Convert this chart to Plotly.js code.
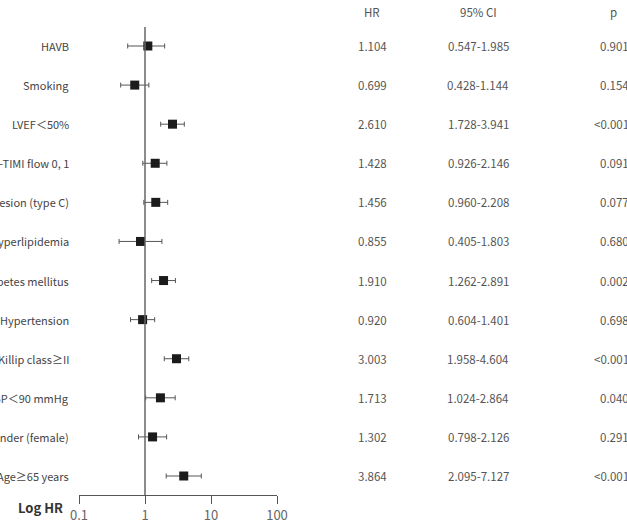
<!DOCTYPE html>
<html>
<head>
<meta charset="utf-8">
<script src="https://cdn.plot.ly/plotly-3.0.1.min.js"></script>
<style>
  html, body { margin: 0; padding: 0; background: #fff; }
  #chart { width: 627px; height: 523px; }
</style>
</head>
<body>
<div id="chart"></div>
<script>
// Multivariable Cox regression: hazard ratios with 95% confidence intervals
const variables = [
  "HAVB", "Smoking", "LVEF\uFF1C50%", "Pre-TIMI flow 0, 1", "B2/C lesion (type C)",
  "Hyperlipidemia", "Diabetes mellitus", "Hypertension", "Killip class\u2265II",
  "SBP\uFF1C90 mmHg", "Gender (female)", "Age\u226565 years"
];
const hr    = [1.104, 0.699, 2.610, 1.428, 1.456, 0.855, 1.910, 0.920, 3.003, 1.713, 1.302, 3.864];
const ciLow = [0.547, 0.428, 1.728, 0.926, 0.960, 0.405, 1.262, 0.604, 1.958, 1.024, 0.798, 2.095];
const ciHigh= [1.985, 1.144, 3.941, 2.146, 2.208, 1.803, 2.891, 1.401, 4.604, 2.864, 2.126, 7.127];
const hrText = ["1.104", "0.699", "2.610", "1.428", "1.456", "0.855", "1.910", "0.920", "3.003", "1.713", "1.302", "3.864"];
const ciText = ["0.547-1.985", "0.428-1.144", "1.728-3.941", "0.926-2.146", "0.960-2.208", "0.405-1.803",
                "1.262-2.891", "0.604-1.401", "1.958-4.604", "1.024-2.864", "0.798-2.126", "2.095-7.127"];
const pText = ["0.901", "0.154", "<0.001", "0.091", "0.077", "0.680", "0.002", "0.698", "<0.001", "0.040", "0.291", "<0.001"];
const tickVals = [0.1, 1, 10, 100];
const tickText = ["0.1", "1", "10", "100"];

// Plot box in pixels
const W = 627, H = 523;
const plotL = 79, plotR = 277, plotT = 27, plotB = 495;
const px = p => (p - plotL) / (plotR - plotL);          // pixel x -> paper x
const py = p => (plotB - p) / (plotB - plotT);          // pixel y -> paper y

const rows = variables.map((_, i) => i);
const FONT = "Noto Sans CJK KR, Noto Sans, sans-serif";

const trace = {
  type: "scatter",
  mode: "markers",
  x: hr,
  y: rows,
  marker: { symbol: "square", size: 9, color: "#1b1b1b" },
  error_x: {
    type: "data",
    symmetric: false,
    array: hr.map((v, i) => ciHigh[i] - v),
    arrayminus: hr.map((v, i) => v - ciLow[i]),
    color: "#555",
    thickness: 1,
    width: 2.5
  },
  hoverinfo: "skip",
  showlegend: false
};

const annotations = [];
const colHR = px(372), colCI = px(478), colP = px(631);
const headerY = py(12);
const labelFont = { family: FONT, size: 11, color: "#444" };
const tableFont = { family: FONT, size: 11.5, color: "#555" };
variables.forEach((name, i) => {
  annotations.push({ xref: "paper", yref: "y", x: px(71), y: i, text: name,
    xanchor: "right", yanchor: "middle", showarrow: false, font: labelFont });
  annotations.push({ xref: "paper", yref: "y", x: colHR, y: i, text: hrText[i],
    xanchor: "center", yanchor: "middle", showarrow: false, font: tableFont });
  annotations.push({ xref: "paper", yref: "y", x: colCI, y: i, text: ciText[i],
    xanchor: "center", yanchor: "middle", showarrow: false, font: tableFont });
  annotations.push({ xref: "paper", yref: "y", x: colP, y: i, text: pText[i].replace("<", "&lt;"),
    xanchor: "right", yanchor: "middle", showarrow: false, font: tableFont });
});
[["HR", px(372)], ["95% CI", px(478)], ["p", px(613)]].forEach(([t, x]) => {
  annotations.push({ xref: "paper", yref: "paper", x: x, y: headerY, text: t,
    xanchor: "center", yanchor: "middle", showarrow: false, font: tableFont });
});
annotations.push({ xref: "paper", yref: "paper", x: px(40), y: py(508), text: "<b>Log HR</b>",
  xanchor: "center", yanchor: "middle", showarrow: false,
  font: { family: FONT, size: 13, color: "#333" } });

const layout = {
  width: W, height: H,
  margin: { l: plotL, r: W - plotR, t: plotT, b: H - plotB, pad: 0 },
  paper_bgcolor: "#fff", plot_bgcolor: "#fff",
  xaxis: {
    type: "log", range: [-1, 2],
    tickvals: tickVals, ticktext: tickText,
    showline: true, linecolor: "#555", linewidth: 1,
    ticks: "outside", ticklen: 8, tickcolor: "#555", tickwidth: 1,
    showgrid: false, zeroline: false,
    tickfont: { family: FONT, size: 13, color: "#666" }
  },
  yaxis: {
    range: [11.486, -0.486],
    showgrid: false, zeroline: false, showline: false,
    showticklabels: false, ticks: ""
  },
  shapes: [{
    type: "line", xref: "x", yref: "paper", x0: 1, x1: 1, y0: 0, y1: 1,
    line: { color: "#666", width: 1.5 }
  }],
  annotations: annotations
};

Plotly.newPlot("chart", [trace], layout, { displayModeBar: false, staticPlot: true });
</script>
</body>
</html>
